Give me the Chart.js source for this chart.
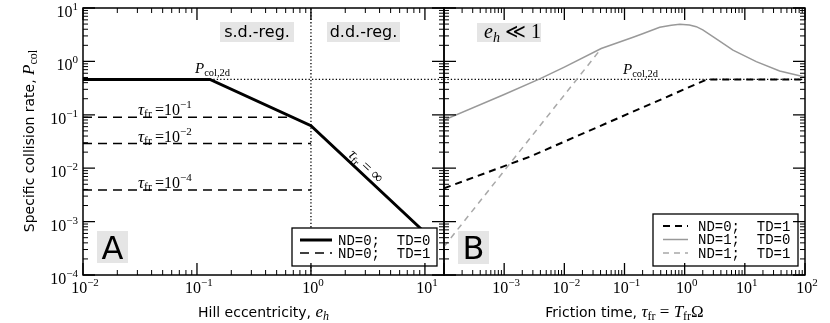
<!DOCTYPE html>
<html><head><meta charset="utf-8">
<script src="https://cdn.jsdelivr.net/npm/chart.js@4/dist/chart.umd.min.js"></script>
<style>
html,body{margin:0;padding:0;background:#fff;}
#wrap{position:relative;width:830px;height:323px;}
canvas{position:absolute;left:0;top:0;}
</style></head>
<body><div id="wrap"><canvas id="ca" width="830" height="323"></canvas><canvas id="cb" width="830" height="323"></canvas></div>
<script>
// ---------- Panel A data (x: Hill eccentricity e_h) ----------
const ehSolid = [0.01, 0.13, 1, 10];
const pSolid  = [0.46, 0.46, 0.0625, 0.000625];
const ehTau1 = [0.01, 0.70];
const pTau1  = [0.09, 0.09];
const ehTau2 = [0.01, 1];
const pTau2  = [0.029, 0.029];
const ehTau4 = [0.01, 1];
const pTau4  = [0.0039, 0.0039];
const pCol2d = 0.46;
const ehRegime = 1;
// ---------- Panel B data (x: friction time tau_fr) ----------
const tauND0TD1 = [1e-4, 2.66e-3, 2.35, 100];
const pND0TD1   = [0.0042, 0.0164, 0.46, 0.46];
const tauND1TD0 = [1e-4, 1e-3, 3.9e-3, 1e-2, 0.041, 0.139, 0.2, 0.385, 0.6, 0.83, 1.2, 1.56, 2.0, 3.5, 6.35, 15.5, 37.9, 100];
const pND1TD0   = [0.080, 0.24, 0.47, 0.78, 1.74, 2.83, 3.3, 4.35, 4.75, 4.95, 4.8, 4.47, 3.9, 2.56, 1.63, 0.99, 0.66, 0.51];
const tauND1TD1 = [1e-4, 0.041];
const pND1TD1   = [3.4e-4, 1.74];
// ---------- tick labels (powers of ten) ----------
const xTickExpA = [-2, -1, 0, 1];
const xTickExpB = [-3, -2, -1, 0, 1, 2];
const yTickExp  = [-4, -3, -2, -1, 0, 1];
const legendA = ['ND=0;  TD=0', 'ND=0;  TD=1'];
const legendB = ['ND=0;  TD=1', 'ND=1;  TD=0', 'ND=1;  TD=1'];

const SERIF = "'Liberation Serif','DejaVu Serif',serif";
const SANS  = "'DejaVu Sans','Liberation Sans',sans-serif";
const MONO  = "'Liberation Mono','DejaVu Sans Mono',monospace";
const GRAY = '#999999', GRAYD = '#a8a8a8', BOXBG = '#e5e5e5';

function xy(xs, ys){ return xs.map((v,i)=>({x:v, y:ys[i]})); }
function ds(xs, ys, color, width, dash){
  return {data: xy(xs, ys), borderColor: color, borderWidth: width, borderDash: dash || [],
    pointRadius: 0, fill: false, tension: 0, borderCapStyle: 'butt', borderJoinStyle: 'miter'};
}
function rich(ctx, segs, x, y, align){
  let w = 0;
  for (const s of segs){ ctx.font = s[1]; w += ctx.measureText(s[0]).width; }
  let cx = align === 'center' ? x - w/2 : align === 'right' ? x - w : x;
  ctx.textAlign = 'left'; ctx.textBaseline = 'alphabetic';
  for (const s of segs){ ctx.font = s[1]; ctx.fillText(s[0], cx, y + (s[2] || 0)); cx += ctx.measureText(s[0]).width; }
  return w;
}
function pow10(e){ return [['10', '16px ' + SERIF, 0], [(e < 0 ? '\u2212' : '') + Math.abs(e), '11px ' + SERIF, -7]]; }
function logTicks(min, max){
  const out = [];
  for (let e = Math.floor(Math.log10(min)); e <= Math.ceil(Math.log10(max)); e++)
    for (let m = 1; m < 10; m++){ const v = m * Math.pow(10, e); if (v >= min*0.9999 && v <= max*1.0001) out.push([v, m === 1]); }
  return out;
}
function frameTicks(chart){
  const {ctx, chartArea: ca} = chart; const xs = chart.scales.x, ys = chart.scales.y;
  ctx.save(); ctx.strokeStyle = '#000'; ctx.setLineDash([]);
  for (const major of [false, true]){
    ctx.lineWidth = major ? 1.3 : 1; ctx.beginPath();
    const L = major ? 12 : 5;
    logTicks(xs.min, xs.max).forEach(([v, mj]) => { if (mj !== major) return;
      const p = xs.getPixelForValue(v);
      ctx.moveTo(p, ca.bottom); ctx.lineTo(p, ca.bottom - L); ctx.moveTo(p, ca.top); ctx.lineTo(p, ca.top + L); });
    logTicks(ys.min, ys.max).forEach(([v, mj]) => { if (mj !== major) return;
      const p = ys.getPixelForValue(v);
      ctx.moveTo(ca.left, p); ctx.lineTo(ca.left + L, p); ctx.moveTo(ca.right, p); ctx.lineTo(ca.right - L, p); });
    ctx.stroke();
  }
  ctx.lineWidth = 1.5; ctx.strokeRect(ca.left, ca.top, ca.width, ca.height);
  ctx.restore();
}
function xTickLabels(chart, exps){
  const ctx = chart.ctx, xs = chart.scales.x, ca = chart.chartArea;
  ctx.fillStyle = '#000';
  exps.forEach(e => rich(ctx, pow10(e), xs.getPixelForValue(Math.pow(10, e)) + 2, ca.bottom + 18, 'center'));
}
function yTickLabels(chart, exps){
  const ctx = chart.ctx, ys = chart.scales.y, ca = chart.chartArea;
  ctx.fillStyle = '#000';
  exps.forEach(e => rich(ctx, pow10(e), ca.left - 5, ys.getPixelForValue(Math.pow(10, e)) + 9, 'right'));
}
function grayBox(ctx, x, y, w, h){ ctx.fillStyle = BOXBG; ctx.fillRect(x, y, w, h); ctx.fillStyle = '#000'; }
function drawLegend(ctx, box, rows, sx0, sx1, tx){
  ctx.save();
  ctx.fillStyle = '#fff'; ctx.fillRect(box[0], box[1], box[2], box[3]);
  ctx.strokeStyle = '#000'; ctx.lineWidth = 1.3; ctx.setLineDash([]); ctx.strokeRect(box[0], box[1], box[2], box[3]);
  rows.forEach(r => {
    ctx.strokeStyle = r.color; ctx.lineWidth = r.lw; ctx.setLineDash(r.dash); ctx.lineCap = 'butt';
    ctx.beginPath(); ctx.moveTo(sx0, r.y); ctx.lineTo(sx1, r.y); ctx.stroke();
    ctx.setLineDash([]); ctx.fillStyle = '#000'; ctx.font = '14px ' + MONO; ctx.textAlign = 'left'; ctx.textBaseline = 'alphabetic';
    ctx.fillText(r.text, tx, r.y + 4.5);
  });
  ctx.restore();
}
const S = (sz) => sz + 'px ' + SERIF, SI = (sz) => 'italic ' + sz + 'px ' + SERIF, SA = (sz) => sz + 'px ' + SANS;

const commonOpts = (pad, xmin, xmax) => ({
  responsive: false, animation: false, devicePixelRatio: 1, events: [],
  layout: {padding: pad},
  plugins: {legend: {display: false}, tooltip: {enabled: false}},
  scales: {
    x: {type: 'logarithmic', min: xmin, max: xmax, display: false},
    y: {type: 'logarithmic', min: 1e-4, max: 10, display: false}
  }
});

// ---------- Chart A ----------
const plugA = {id: 'decoA', afterDatasetsDraw(chart){
  const ctx = chart.ctx; ctx.save(); ctx.fillStyle = '#000';
  // regime boxes
  grayBox(ctx, 220, 22, 74, 20); ctx.font = SA(16); ctx.textAlign = 'center'; ctx.textBaseline = 'alphabetic'; ctx.fillText('s.d.-reg.', 257, 37);
  grayBox(ctx, 327, 22, 73, 20); ctx.font = SA(16); ctx.textAlign = 'center'; ctx.fillText('d.d.-reg.', 363.5, 37);
  // P_col,2d
  rich(ctx, [['P', SI(15), 0], ['col,2d', S(10.5), 3]], 195, 73, 'left');
  // tau labels
  const tl = (e, y) => rich(ctx, [['\u03C4', SI(17), 0], ['fr', S(11.5), 3], ['\u2009=', S(16), 0], ['10', S(16), 0], ['\u2212' + Math.abs(e), S(11), -7]], 138, y, 'left');
  tl(1, 115); tl(2, 141.5); tl(4, 188);
  // tau = infinity rotated
  ctx.save(); ctx.translate(366, 166); ctx.rotate(43 * Math.PI / 180);
  rich(ctx, [['\u03C4', SI(16), 0], ['fr', S(11), 3], [' = \u221E', S(16), 0]], 0, 5, 'center');
  ctx.restore();
  // A box
  grayBox(ctx, 97, 231, 31, 32); ctx.font = SA(32); ctx.textAlign = 'center'; ctx.fillText('A', 112.5, 259);
  ctx.restore();
}, afterDraw(chart){
  const ctx = chart.ctx;
  drawLegend(ctx, [292, 228, 145, 38], [
    {y: 240, color: '#000', lw: 3, dash: [], text: legendA[0]},
    {y: 253, color: '#000', lw: 1.6, dash: [9, 6], text: legendA[1]}], 300, 332, 338);
  frameTicks(chart);
  xTickLabels(chart, xTickExpA); yTickLabels(chart, yTickExp);
  ctx.save(); ctx.fillStyle = '#000';
  rich(ctx, [['Hill eccentricity, ', SA(14), 0], ['e', SI(17), 0], ['h', SI(12), 3]], 263.5, 317, 'center');
  ctx.translate(34, 141); ctx.rotate(-Math.PI/2);
  rich(ctx, [['Specific collision rate, ', SA(14), 0], ['P', SI(17), 0], ['col', S(12), 3]], 0, 0, 'center');
  ctx.restore();
}};
new Chart(document.getElementById('ca'), {
  type: 'line',
  data: {datasets: [
    ds(ehSolid, pSolid, '#000', 3),
    ds(ehTau1, pTau1, '#000', 1.6, [9, 6]),
    ds(ehTau2, pTau2, '#000', 1.6, [9, 6]),
    ds(ehTau4, pTau4, '#000', 1.6, [9, 6]),
    ds([ehSolid[1], 14.7], [pCol2d, pCol2d], '#000', 1.3, [1.3, 2.1]),
    ds([ehRegime, ehRegime], [1e-4, 10], '#000', 1.3, [1.3, 2.1])
  ]},
  options: commonOpts({left: 83, right: 386, top: 8, bottom: 48}, 0.01, 14.7),
  plugins: [plugA]
});

// ---------- Chart B ----------
const plugB = {id: 'decoB', afterDatasetsDraw(chart){
  const ctx = chart.ctx; ctx.save(); ctx.fillStyle = '#000';
  grayBox(ctx, 477, 23, 64, 19);
  rich(ctx, [['e', SI(20), 0], ['h', SI(14), 4], [' \u226A 1', S(20), 0]], 484, 38, 'left');
  rich(ctx, [['P', SI(15), 0], ['col,2d', S(10.5), 3]], 623, 74, 'left');
  grayBox(ctx, 458, 231, 31, 33); ctx.font = SA(32); ctx.textAlign = 'center'; ctx.fillText('B', 473.5, 259);
  ctx.restore();
}, afterDraw(chart){
  const ctx = chart.ctx;
  drawLegend(ctx, [653, 214, 145, 52], [
    {y: 226, color: '#000', lw: 2, dash: [7, 5], text: legendB[0]},
    {y: 239.5, color: GRAY, lw: 1.5, dash: [], text: legendB[1]},
    {y: 253, color: GRAYD, lw: 1.5, dash: [6, 5], text: legendB[2]}], 663, 688, 698);
  frameTicks(chart);
  xTickLabels(chart, xTickExpB);
  ctx.save(); ctx.fillStyle = '#000';
  rich(ctx, [['Friction time, ', SA(14), 0], ['\u03C4', SI(17), 0], ['fr', S(12), 3], [' = ', S(17), 0], ['T', SI(17), 0], ['fr', S(12), 3], ['\u03A9', S(17), 0]], 624.5, 317, 'center');
  ctx.restore();
}};
new Chart(document.getElementById('cb'), {
  type: 'line',
  data: {datasets: [
    ds(tauND0TD1, pND0TD1, '#000', 2, [7, 5]),
    ds(tauND1TD0, pND1TD0, GRAY, 1.5),
    ds(tauND1TD1, pND1TD1, GRAYD, 1.5, [6, 5]),
    ds([1e-4, 100], [pCol2d, pCol2d], '#000', 1.3, [1.3, 2.1])
  ]},
  options: commonOpts({left: 444, right: 25, top: 8, bottom: 48}, 1e-4, 100),
  plugins: [plugB]
});
</script>
</body></html>
